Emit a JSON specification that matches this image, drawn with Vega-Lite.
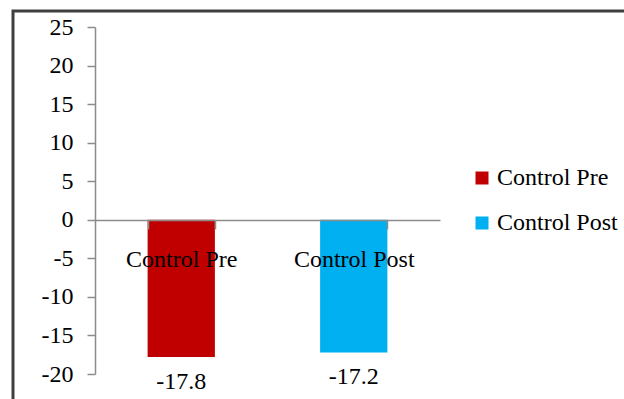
{
  "$schema": "https://vega.github.io/schema/vega-lite/v6.json",
  "width": 620,
  "height": 395,
  "autosize": "none",
  "padding": {"left": 13, "top": 11, "right": 0, "bottom": 0},
  "background": "white",
  "config": {
    "view": {"stroke": "#3f3f3f", "strokeWidth": 3},
    "font": "Liberation Serif",
    "locale": {"number": {"decimal": ".", "thousands": ",", "grouping": [3], "currency": ["$", ""], "minus": "-"}}
  },
  "data": {
    "values": [
      {"group": "Control Pre", "value": -17.8},
      {"group": "Control Post", "value": -17.2}
    ]
  },
  "encoding": {
    "x": {
      "field": "group",
      "type": "nominal",
      "sort": ["Control Pre", "Control Post"],
      "scale": {"range": [82, 427], "paddingInner": 0.61, "paddingOuter": 0.305},
      "axis": {
        "orient": "bottom",
        "offset": -186,
        "zindex": 1,
        "tickBand": "extent",
        "labelAngle": 0,
        "title": null,
        "domainColor": "#8c8c8c",
        "domainWidth": 1.5,
        "tickColor": "#8c8c8c",
        "tickWidth": 1.5,
        "tickSize": 9,
        "labelFontSize": 24,
        "labelPadding": 18,
        "labelColor": "black",
        "labelFont": "Liberation Serif"
      }
    },
    "y": {
      "field": "value",
      "type": "quantitative",
      "scale": {"domain": [-20, 25], "range": [363, 16], "nice": false},
      "axis": {
        "orient": "left",
        "offset": -82,
        "zindex": 1,
        "values": [-20, -15, -10, -5, 0, 5, 10, 15, 20, 25],
        "grid": false,
        "title": null,
        "domainColor": "#8c8c8c",
        "domainWidth": 1.5,
        "tickColor": "#8c8c8c",
        "tickWidth": 1.5,
        "tickSize": 8,
        "labelFontSize": 24,
        "labelPadding": 14,
        "labelColor": "black",
        "labelFont": "Liberation Serif"
      }
    }
  },
  "layer": [
    {
      "mark": {"type": "bar"},
      "encoding": {
        "color": {
          "field": "group",
          "type": "nominal",
          "sort": ["Control Pre", "Control Post"],
          "scale": {"domain": ["Control Pre", "Control Post"], "range": ["#C00000", "#00B0F0"]},
          "legend": {
            "orient": "none",
            "legendX": 457,
            "legendY": 155,
            "title": null,
            "symbolType": "square",
            "symbolSize": 169,
            "symbolStrokeWidth": 0,
            "labelFontSize": 24,
            "labelFont": "Liberation Serif",
            "labelColor": "black",
            "rowPadding": 21,
            "labelOffset": 3
          }
        }
      }
    },
    {
      "mark": {"type": "text", "baseline": "top", "dy": 13, "fontSize": 24, "color": "black"},
      "encoding": {
        "text": {"field": "value", "type": "quantitative", "format": ".1f"}
      }
    }
  ]
}
